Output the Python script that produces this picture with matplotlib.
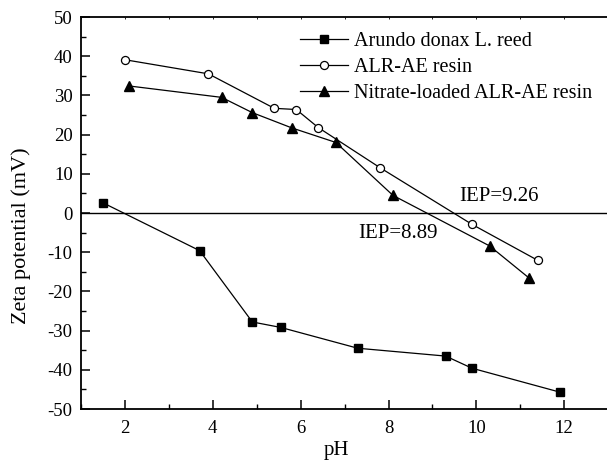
import matplotlib
matplotlib.use("Agg")
import matplotlib.pyplot as plt
from matplotlib.ticker import MultipleLocator

plt.rcParams['font.family'] = ['Liberation Serif', 'DejaVu Serif']
plt.rcParams['axes.unicode_minus'] = False

# Data
reed_ph = [1.5, 3.7, 4.9, 5.55, 7.3, 9.3, 9.9, 11.9]
reed_zeta = [2.6, -9.6, -27.8, -29.2, -34.5, -36.5, -39.6, -45.7]

resin_ph = [2.0, 3.9, 5.4, 5.9, 6.4, 7.8, 9.9, 11.4]
resin_zeta = [39.1, 35.5, 26.7, 26.4, 21.8, 11.6, -2.9, -12.1]

nitrate_ph = [2.1, 4.2, 4.9, 5.8, 6.8, 8.1, 10.3, 11.2]
nitrate_zeta = [32.4, 29.5, 25.6, 21.7, 18.0, 4.5, -8.4, -16.6]

labels = ["Arundo donax L. reed", "ALR-AE resin", "Nitrate-loaded ALR-AE resin"]
iep_texts = ["IEP=9.26", "IEP=8.89"]
iep_pos = [(9.6, 4.3), (7.3, -5.2)]

fig = plt.figure(figsize=(6.07, 4.62), dpi=100)
ax = fig.add_axes([81/607, 53/462, (607-81)/607 + 0.002, (409-17)/462])

lw = 0.9
ax.plot(reed_ph, reed_zeta, color='black', lw=lw, marker='s', ms=5.2,
        mfc='black', mec='black', label=labels[0])
ax.plot(resin_ph, resin_zeta, color='black', lw=lw, marker='o', ms=5.8,
        mfc='white', mec='black', mew=0.9, label=labels[1])
ax.plot(nitrate_ph, nitrate_zeta, color='black', lw=lw, marker='^', ms=6.5,
        mfc='black', mec='black', label=labels[2])

ax.axhline(0, color='black', lw=1.0)

for t, (x, y) in zip(iep_texts, iep_pos):
    ax.text(x, y, t, fontsize=15, va='center', ha='left')

ax.set_xlim(1, 13)
ax.set_ylim(-50, 50)
ax.xaxis.set_major_locator(MultipleLocator(2))
ax.xaxis.set_minor_locator(MultipleLocator(1))
ax.yaxis.set_major_locator(MultipleLocator(10))
ax.yaxis.set_minor_locator(MultipleLocator(5))

ax.tick_params(which='major', direction='in', length=6.5, width=1.1,
               labelsize=13.5, top=False, right=False)
ax.tick_params(which='minor', direction='in', length=3.5, width=1.0,
               top=False, right=False)
ax.tick_params(axis='x', which='major', pad=8)
ax.tick_params(axis='y', which='major', pad=6)

ax.spines['right'].set_visible(False)
for s in ['left', 'bottom', 'top']:
    ax.spines[s].set_linewidth(1.3)

sec = ax.secondary_xaxis('top')
sec.xaxis.set_major_locator(MultipleLocator(1))
sec.tick_params(direction='in', length=1.5, width=0.6, labeltop=False)
sec.spines['top'].set_visible(False)

ax.set_xlabel('pH', fontsize=15)
ax.set_ylabel('Zeta potential (mV)', fontsize=16)
ax.xaxis.set_label_coords((336-81)/526, -(441-409)/392)
ax.yaxis.set_label_coords(-(81-31)/526, (409-236)/392)

leg = ax.legend(loc='upper left', bbox_to_anchor=(300/607, (462-32)/462),
                bbox_transform=fig.transFigure, frameon=False, fontsize=14.5,
                handlelength=2.4, handletextpad=0.3, labelspacing=0.33,
                borderpad=0, borderaxespad=0)

fig.savefig('out.png', dpi=100)
